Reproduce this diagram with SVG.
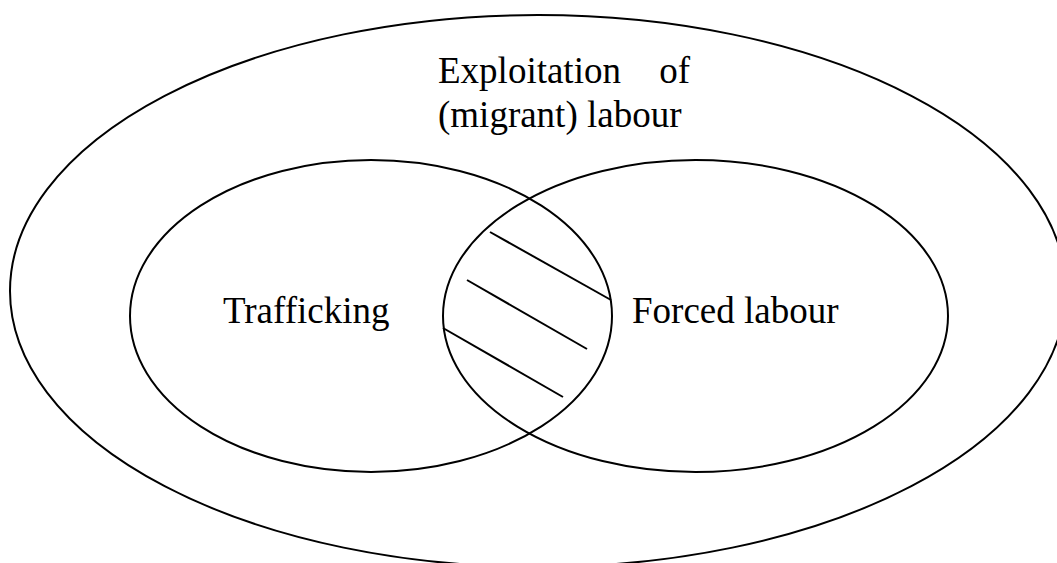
<svg xmlns="http://www.w3.org/2000/svg" width="1057" height="563" viewBox="0 0 1057 563">
<style>
.shape{fill:none;stroke:#000;stroke-width:2}
.hatch{stroke:#000;stroke-width:2;fill:none}
.lbl{font-family:"Liberation Serif","Times New Roman",serif;font-size:37px;fill:#000}
</style>
<rect width="1057" height="563" fill="#fff"/>
<g id="exploitation">
<ellipse class="shape" cx="538" cy="291" rx="528" ry="276"/>
<text class="lbl" x="438" y="83" word-spacing="29">Exploitation of</text>
<text class="lbl" x="438" y="127">(migrant) labour</text>
</g>
<g id="trafficking">
<ellipse class="shape" cx="371" cy="316" rx="241" ry="156"/>
<text class="lbl" x="223" y="323">Trafficking</text>
</g>
<g id="forced-labour">
<ellipse class="shape" cx="695.5" cy="316" rx="252.5" ry="156"/>
<text class="lbl" x="632" y="323">Forced labour</text>
</g>
<g id="overlap-hatching">
<line class="hatch" x1="490" y1="232" x2="611" y2="300"/>
<line class="hatch" x1="467" y1="280" x2="587" y2="349"/>
<line class="hatch" x1="443" y1="328" x2="563" y2="397"/>
</g>
</svg>
